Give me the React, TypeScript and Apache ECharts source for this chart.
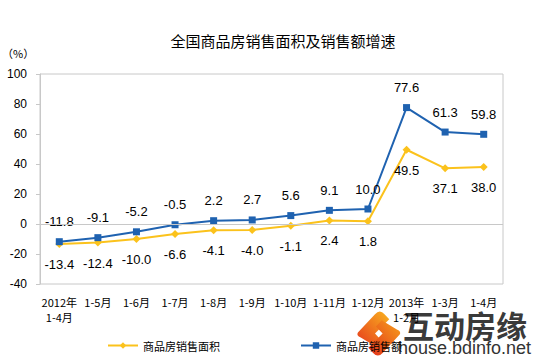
import React, { useEffect, useRef } from "react";
import * as echarts from "echarts";

const categories = [
  "2012年\n1-4月", "1-5月", "1-6月", "1-7月", "1-8月", "1-9月",
  "1-10月", "1-11月", "1-12月", "2013年\n1-2月", "1-3月", "1-4月",
];
const areaGrowth = [-13.4, -12.4, -10.0, -6.6, -4.1, -4.0, -1.1, 2.4, 1.8, 49.5, 37.1, 38.0];
const salesGrowth = [-11.8, -9.1, -5.2, -0.5, 2.2, 2.7, 5.6, 9.1, 10.0, 77.6, 61.3, 59.8];
const seriesNames = ["商品房销售面积", "商品房销售额"];
const titleText = "全国商品房销售面积及销售额增速";
const unitText = "（%）";
const yMin = -40;
const yMax = 100;
const yStep = 20;

const logoA =
  "M 2 26 L 20 8 Q 25 3 30 8 L 35 13 L 20 27 L 27 34 L 21 40 L 5 31 Q 0 29 2 26 Z";
const logoB =
  "M 46 28 L 28 46 Q 23 51 18 46 L 13 41 L 28 27 L 21 20 L 27 14 L 43 23 Q 48 25 46 28 Z";

let registered = false;
function registerShapes() {
  if (registered) return;
  echarts.graphic.registerShape("logoA", echarts.graphic.extendPath(logoA, {}));
  echarts.graphic.registerShape("logoB", echarts.graphic.extendPath(logoB, {}));
  registered = true;
}

export default function App() {
  const ref = useRef<HTMLDivElement>(null);
  useEffect(() => {
    document.body.style.margin = "0";
    registerShapes();
    const chart = echarts.init(ref.current!, undefined, { renderer: "svg" });
    const gradA = new echarts.graphic.LinearGradient(0, 1, 1, 0, [
      { offset: 0, color: "#e6391d" },
      { offset: 1, color: "#f9b31f" },
    ]);
    const gradB = new echarts.graphic.LinearGradient(1, 0, 0, 1, [
      { offset: 0, color: "#f7a11c" },
      { offset: 1, color: "#e2301b" },
    ]);
    chart.setOption({
      animation: false,
      backgroundColor: "#ffffff",
      title: {
        text: titleText,
        left: 278,
        textAlign: "center",
        top: 28,
        textStyle: {
          fontSize: 15,
          fontWeight: "normal",
          color: "#000",
          fontFamily: "Noto Sans CJK SC",
        },
      },
      legend: {
        left: 102,
        top: 335,
        itemWidth: 30,
        itemHeight: 8,
        itemGap: 80,
        textStyle: { fontSize: 11, color: "#000", fontFamily: "Noto Sans CJK SC" },
        data: seriesNames,
      },
      grid: {
        left: 40,
        right: 34,
        top: 74,
        bottom: 78,
        show: true,
        borderColor: "#c8c8c8",
        borderWidth: 1,
      },
      xAxis: {
        type: "category",
        data: categories,
        boundaryGap: true,
        axisLine: { show: false, onZero: false },
        axisTick: { show: false },
        axisLabel: {
          interval: 0,
          margin: 10,
          fontSize: 11,
          lineHeight: 15,
          color: "#000",
          fontFamily: "Noto Sans CJK SC",
        },
      },
      yAxis: {
        type: "value",
        min: yMin,
        max: yMax,
        interval: yStep,
        axisLine: { show: true, lineStyle: { color: "#c8c8c8" } },
        axisTick: { show: true, length: 4, lineStyle: { color: "#c8c8c8" } },
        splitLine: { show: false },
        axisLabel: {
          margin: 13,
          fontSize: 12,
          color: "#000",
          fontFamily: "Liberation Sans",
        },
      },
      series: [
        {
          name: seriesNames[0],
          type: "line",
          data: areaGrowth,
          symbol: "diamond",
          symbolSize: 8,
          lineStyle: { color: "#fbc21c", width: 2 },
          itemStyle: { color: "#fbc21c" },
          label: {
            show: true,
            position: "bottom",
            distance: 10,
            fontSize: 13,
            color: "#000",
            fontFamily: "Liberation Sans",
            formatter: (p: any) => p.value.toFixed(1),
          },
          markLine: {
            silent: true,
            symbol: "none",
            label: { show: false },
            lineStyle: { color: "#c8c8c8", type: "solid", width: 1 },
            data: [{ yAxis: 0 }],
          },
          z: 3,
        },
        {
          name: seriesNames[1],
          type: "line",
          data: salesGrowth,
          symbol: "rect",
          symbolSize: 7,
          lineStyle: { color: "#1f62b0", width: 2 },
          itemStyle: { color: "#1f62b0" },
          label: {
            show: true,
            position: "top",
            distance: 10,
            fontSize: 13,
            color: "#000",
            fontFamily: "Liberation Sans",
            formatter: (p: any) => p.value.toFixed(1),
          },
          z: 4,
        },
      ],
      graphic: [
        {
          type: "text",
          left: 2,
          top: 47,
          style: {
            text: unitText,
            fontSize: 11,
            fill: "#000",
            fontFamily: "Noto Sans CJK SC",
          },
        },
        {
          type: "group",
          z: 100,
          children: [
            {
              type: "logoA",
              x: 356,
              y: 306,
              scaleX: 0.95,
              scaleY: 1.02,
              style: { fill: gradA },
            },
            {
              type: "logoB",
              x: 356,
              y: 306,
              scaleX: 0.95,
              scaleY: 1.02,
              style: { fill: gradB },
            },
            {
              type: "text",
              x: 403,
              y: 309,
              style: {
                text: "互动房缘",
                fontSize: 31,
                fontWeight: "bold",
                fill: "#3a3a3a",
                fontFamily: "Noto Sans CJK SC",
              },
            },
            {
              type: "text",
              x: 398,
              y: 339,
              style: {
                text: "house.bdinfo.net",
                fontSize: 18,
                fill: "#333",
                fontFamily: "Liberation Sans",
              },
            },
          ],
        },
      ],
    });
    return () => chart.dispose();
  }, []);
  return <div ref={ref} style={{ width: 537, height: 362 }} />;
}
